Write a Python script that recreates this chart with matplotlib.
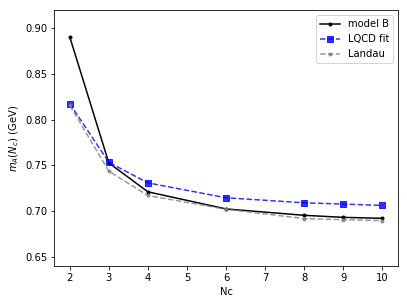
import matplotlib
matplotlib.use('Agg')
import matplotlib.pyplot as plt

# Nc values and axial mass m_A(Nc) in GeV
nc = [2, 3, 4, 6, 8, 9, 10]
model_b = [0.8906, 0.7527, 0.7211, 0.7024, 0.6954, 0.6932, 0.6921]
lqcd_fit = [0.8176, 0.7534, 0.7309, 0.7146, 0.7091, 0.7077, 0.7062]
landau = [0.8158, 0.7436, 0.7171, 0.7020, 0.6918, 0.6907, 0.6896]

fig = plt.figure(figsize=(407 / 72, 305 / 72), dpi=72)
ax = fig.add_subplot(111)
fig.subplots_adjust(left=0.133, right=0.978, top=0.967, bottom=0.128)

ax.plot(nc, model_b, 'k.-', label='model B')
ax.plot(nc, lqcd_fit, 'bs--', alpha=0.8, label='LQCD fit')
ax.plot(nc, landau, '.--', color='gray', alpha=0.8, label='Landau')

ax.set_ylim(0.64, 0.92)
ax.set_xlabel('Nc')
ax.set_ylabel(r'$m_A(N_c)$ (GeV)')
ax.legend()

fig.savefig('out.png', dpi=72)
